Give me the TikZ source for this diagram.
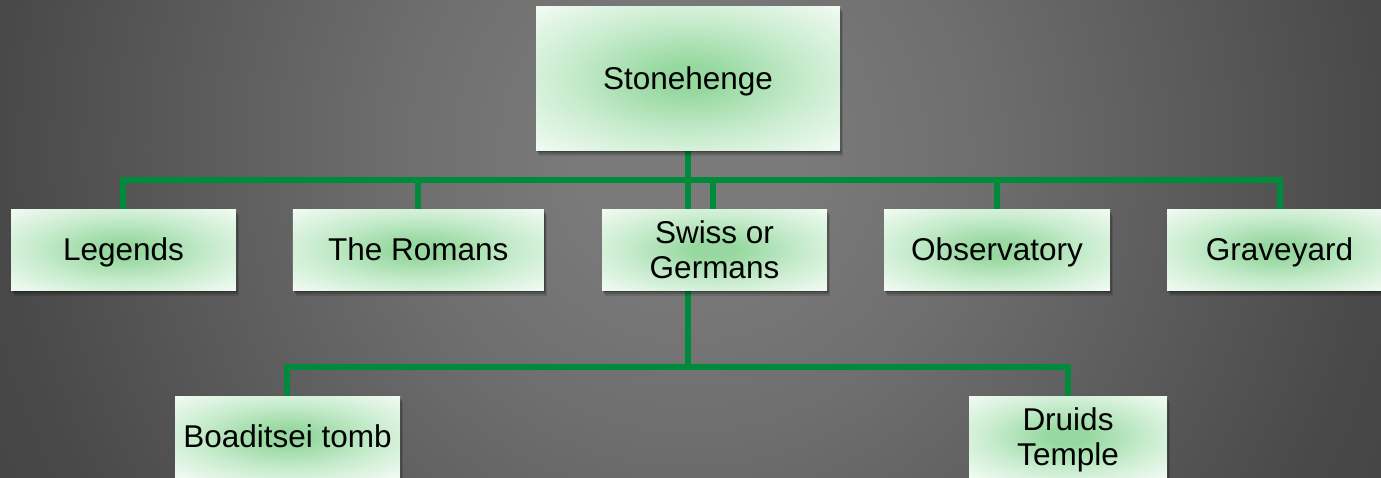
\documentclass[tikz,border=0pt]{standalone}
\usepackage{fontspec}
\setmainfont{Liberation Sans}
\usetikzlibrary{shadows,backgrounds}
\definecolor{bxA}{HTML}{97D8A0}
\definecolor{bxB}{HTML}{C8ECCE}
\definecolor{bxC}{HTML}{F3FBF4}
\definecolor{bg0}{HTML}{7A7A7A}
\definecolor{bg1}{HTML}{6E6E6E}
\definecolor{bg2}{HTML}{484848}
\definecolor{bg3}{HTML}{3E3E3E}
\definecolor{lnk}{HTML}{008A3C}
\pgfdeclareradialshading{boxshade}{\pgfpoint{0bp}{0bp}}{color(0bp)=(bxA); color(5bp)=(bxA); color(20bp)=(bxB); color(35.5bp)=(bxC); color(50bp)=(bxC)}
\pgfdeclareradialshading{bgshade}{\pgfpoint{0bp}{0bp}}{color(0bp)=(bg0); color(4bp)=(bg0); color(10.4bp)=(bg1); color(25bp)=(bg2); color(36bp)=(bg3); color(50bp)=(bg3)}
\tikzset{
  box/.style={rectangle, shading=boxshade, inner sep=0pt, align=center,
    font=\fontsize{31.5}{35}\selectfont, text=black,
    general shadow={shadow xshift=3pt, shadow yshift=-6pt, fill=black, opacity=0.12},
    general shadow={shadow xshift=2pt, shadow yshift=-4pt, fill=black, opacity=0.18},
    general shadow={shadow xshift=1pt, shadow yshift=-2pt, fill=black, opacity=0.25}},
  one/.style={text height=22.5pt, text depth=0pt},
  two/.style={text height=57.5pt, text depth=0pt},
  link/.style={draw=lnk, line width=5.5pt}
}
\begin{document}
\begin{tikzpicture}[x=1pt,y=-1pt]
\useasboundingbox (0,0) rectangle (1381,477);
\clip (0,0) rectangle (1381,477);
\node[box, one, minimum width=304pt, minimum height=144pt] (top) at (688,78) {Stonehenge};
\node[box, one, minimum width=225pt, minimum height=81pt] (leg) at (123.5,249.5) {Legends};
\node[box, one, minimum width=251pt, minimum height=81pt] (rom) at (418.3,249.5) {The Romans};
\node[box, two, minimum width=225pt, minimum height=81pt] (swi) at (714.5,249.5) {Swiss or\\Germans};
\node[box, one, minimum width=226pt, minimum height=81pt] (obs) at (997,249.5) {Observatory};
\node[box, one, minimum width=225pt, minimum height=81pt] (gra) at (1279.5,249.5) {Graveyard};
\node[box, one, minimum width=225pt, minimum height=81pt] (boa) at (287.5,436.5) {Boaditsei tomb};
\node[box, two, minimum width=198pt, minimum height=81pt] (dru) at (1068,436.5) {Druids\\Temple};
\coordinate (bar1) at (0,180);
\coordinate (bar2) at (0,367);
\begin{scope}[on background layer]
\shade[shading=bgshade] (-10,-550) rectangle (1390,850);
\draw[link] (top.south -| 688,0) -- (688,367 |- bar2);
\draw[link] (leg.north -| 123,0) |- (obs.north |- bar1) -- (obs.north);
\draw[link] (gra.north -| 1280,0) |- (obs.north |- bar1);
\draw[link] (rom.north -| 418,0) -- (418,0 |- bar1);
\draw[link] (swi.north -| 713,0) -- (713,0 |- bar1);
\draw[link] (boa.north -| 287,0) |- (dru.north |- bar2) -- (dru.north);
\end{scope}
\end{tikzpicture}
\end{document}
